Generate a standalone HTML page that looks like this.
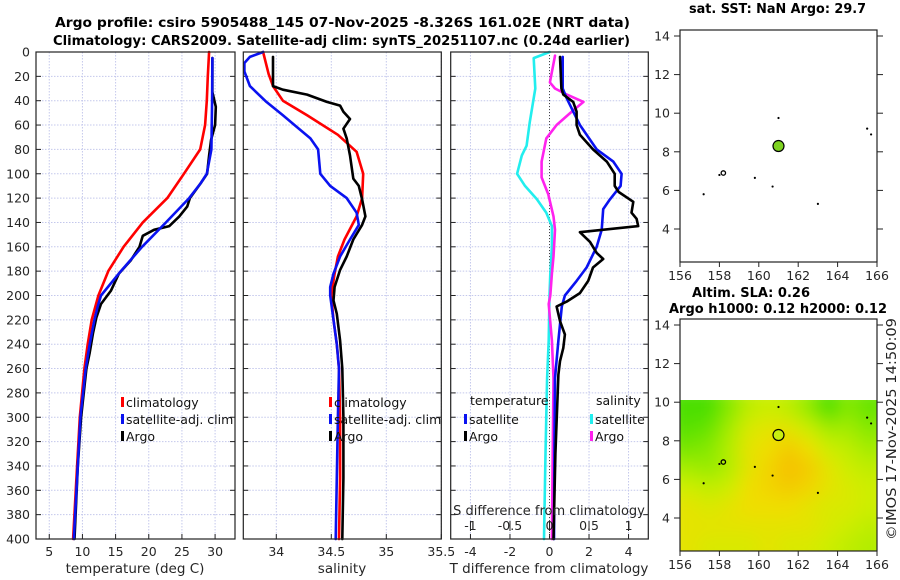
<!DOCTYPE html>
<html><head><meta charset="utf-8"><style>
html,body{margin:0;padding:0;background:#fff;}
svg{display:block;font-family:"DejaVu Sans","Liberation Sans",sans-serif;}
</style></head><body>
<svg id="chart" width="900" height="580" viewBox="0 0 900 580" xmlns="http://www.w3.org/2000/svg">
<defs>
<filter id="blur" x="0" y="0" width="1" height="1"><feGaussianBlur stdDeviation="9"/></filter>
<clipPath id="slaclip"><rect x="680" y="400" width="197" height="151"/></clipPath>
</defs>
<text x="55" y="27" font-size="13.5" font-weight="bold" textLength="575" lengthAdjust="spacingAndGlyphs">Argo profile: csiro 5905488_145 07-Nov-2025 -8.326S 161.02E (NRT data)</text>
<text x="53" y="45" font-size="13.5" font-weight="bold" textLength="577" lengthAdjust="spacingAndGlyphs">Climatology: CARS2009. Satellite-adj clim: synTS_20251107.nc (0.24d earlier)</text>
<text x="689" y="13" font-size="13" font-weight="bold" textLength="177" lengthAdjust="spacingAndGlyphs">sat. SST: NaN Argo: 29.7</text>
<text x="692" y="297" font-size="13" font-weight="bold" textLength="118" lengthAdjust="spacingAndGlyphs">Altim. SLA: 0.26</text>
<text x="669" y="313" font-size="13" font-weight="bold" textLength="218" lengthAdjust="spacingAndGlyphs">Argo h1000: 0.12 h2000: 0.12</text>
<text transform="translate(896,540) rotate(-90)" font-size="13" fill="#222" textLength="222" lengthAdjust="spacingAndGlyphs">©IMOS 17-Nov-2025 14:50:09</text>
<g id="layer"></g>
</svg>
<script>
// ---- Temperature panel data ----
const tempClimDepth=[0,20,40,60,80,100,120,140,160,180,200,220,240,260,300,340,400];
const tempClimValue=[29.1,28.9,28.75,28.5,27.75,25.3,22.8,19.1,16.2,13.9,12.4,11.4,10.8,10.3,9.6,9.2,8.6];
const tempSatDepth=[5,40,80,100,108,120,140,160,180,200,209,220,240,260,300,340,400];
const tempSatValue=[29.6,29.55,29.45,28.75,27.8,26.1,22.6,19.0,15.8,12.8,12.3,11.8,11.1,10.5,9.7,9.3,8.7];
const tempArgoDepth=[5,33,45,60,72,85,100,108,120,127,135,143,146,151,160,171,182,196,207,218,231,247,260,300,340,400];
const tempArgoValue=[29.6,29.6,30.1,30.0,29.4,29.1,28.8,27.8,26.2,25.8,24.6,23.1,20.8,19.1,18.6,17.3,15.5,14.3,12.8,12.1,11.6,11.1,10.6,9.8,9.3,8.8];
// ---- Salinity panel data ----
const salClimDepth=[0,18,28,40,52,68,82,100,120,135,154,168,182,200,220,240,260,300,350,400];
const salClimValue=[33.88,33.93,33.97,34.06,34.28,34.56,34.73,34.79,34.78,34.73,34.62,34.56,34.53,34.50,34.52,34.55,34.57,34.58,34.58,34.57];
const salSatDepth=[0,4,9,16,28,41,52,71,80,100,110,120,132,142,154,168,182,193,200,220,240,260,300,350,400];
const salSatValue=[33.88,33.76,33.71,33.71,33.76,33.91,34.06,34.31,34.38,34.40,34.49,34.64,34.73,34.75,34.67,34.58,34.52,34.49,34.49,34.52,34.55,34.57,34.56,34.55,34.54];
const salArgoDepth=[4,28,31,35,41,44,49,55,63,71,85,104,110,121,135,142,154,168,179,193,204,215,237,260,300,350,400];
const salArgoValue=[33.97,33.97,34.06,34.28,34.46,34.58,34.61,34.67,34.61,34.64,34.67,34.70,34.75,34.78,34.81,34.78,34.70,34.64,34.58,34.53,34.52,34.55,34.58,34.60,34.61,34.61,34.60];
// ---- Difference panel data ----
const dSSatDepth=[0,5,30,58,77,85,100,110,121,132,143,160,182,200,237,268,330,400];
const dSSatValue=[0,-0.2,-0.18,-0.25,-0.29,-0.35,-0.41,-0.31,-0.16,-0.04,0.03,0.03,0.01,0,-0.01,-0.03,-0.05,-0.07];
const dSArgoDepth=[3,25,30,35,41,48,60,71,90,103,117,135,146,168,182,200,207,237,268,330,400];
const dSArgoValue=[0.07,0.005,0.07,0.22,0.43,0.30,0.09,-0.04,-0.1,-0.1,-0.015,0.05,0.07,0.05,0.03,0.01,-0.01,0.03,0.05,0.04,0.03];
const dTSatDepth=[4,30,38,60,80,90,100,110,121,129,146,160,177,188,200,209,237,268,330,400];
const dTSatValue=[0.67,0.67,0.87,1.54,2.39,3.23,3.65,3.6,3.06,2.72,2.64,2.39,1.88,1.37,0.78,0.62,0.45,0.28,0.25,0.23];
const dTArgoDepth=[4,30,35,41,49,60,68,80,90,100,110,115,123,132,137,143,148,156,165,170,177,188,198,205,209,221,232,243,254,265,330,400];
const dTArgoValue=[0.53,0.6,0.7,1.2,1.37,1.37,1.54,2.2,2.9,3.3,3.3,3.5,4.24,4.15,4.41,4.49,1.54,2.05,2.39,2.72,2.2,1.96,1.54,0.87,0.36,0.53,0.78,0.7,0.53,0.45,0.3,0.2];
// ---- Tick labels ----
const depthTicks=[0,20,40,60,80,100,120,140,160,180,200,220,240,260,280,300,320,340,360,380,400];
const tempTicks=[5,10,15,20,25,30];
const salTicks=[34,34.5,35,35.5];
const dTTicks=[-4,-2,0,2,4];
const dSTicks=[-1,-0.5,0,0.5,1];
const lonTicks=[156,158,160,162,164,166];
const latTicks=[4,6,8,10,12,14];
// ---- Map data ----
const islandLon=[158.2,157.2,160.7,159.8,161.0,163.0,165.5,165.7,158.0];
const islandLat=[6.9,5.8,6.2,6.65,9.75,5.3,9.2,8.9,6.8];
const argoLon=[161.0];
const argoLat=[8.3];
const slaLons=[156,157,158,159,160,161,162,163,164,165];
const slaLats=[10.1,9.1,8.1,7.1,6.1,5.1,4.1,3.1];
const slaRow0=[0.15,0.15,0.19,0.23,0.24,0.23,0.20,0.15,0.19,0.17];
const slaRow1=[0.16,0.17,0.21,0.25,0.26,0.26,0.24,0.21,0.21,0.19];
const slaRow2=[0.18,0.19,0.22,0.26,0.27,0.29,0.27,0.24,0.23,0.21];
const slaRow3=[0.21,0.20,0.22,0.26,0.28,0.30,0.29,0.26,0.24,0.23];
const slaRow4=[0.24,0.23,0.24,0.27,0.28,0.29,0.28,0.26,0.25,0.24];
const slaRow5=[0.26,0.25,0.26,0.27,0.27,0.27,0.26,0.25,0.25,0.24];
const slaRow6=[0.26,0.26,0.26,0.26,0.26,0.26,0.26,0.25,0.24,0.23];
const slaRow7=[0.26,0.25,0.25,0.25,0.26,0.25,0.25,0.24,0.23,0.22];
const slaRows=[slaRow0,slaRow1,slaRow2,slaRow3,slaRow4,slaRow5,slaRow6,slaRow7];

const NS='http://www.w3.org/2000/svg';
const layer=document.getElementById('layer');
function el(tag,attrs,parent){const e=document.createElementNS(NS,tag);for(const k in attrs)e.setAttribute(k,attrs[k]);(parent||layer).appendChild(e);return e;}

const Y0=52, Y1=539;
const yD=d=>Y0+(d/400)*(Y1-Y0);
const xT=t=>36+(t-3)*6.633;
const xS=s=>243.3+(s-33.7)*110;
const xDT=t=>450.7+(t+5)*19.76;
const xDS=s=>xDT(s*4);
const panels=[[36,235],[243.3,441.3],[450.7,648.3]];

const ticksTxt=(x,y,s,anchor,name)=>{const t=el('text',{x:x,y:y,'font-size':12.5,fill:'#262626','text-anchor':anchor||'middle'});t.textContent=s;

return t;};

panels.forEach((p,i)=>{
  const g=el('g',{});
  
  
  el('rect',{x:p[0],y:Y0,width:p[1]-p[0],height:Y1-Y0,fill:'#fff'},g);
  depthTicks.forEach(d=>{if(d>0&&d<400)el('line',{x1:p[0],x2:p[1],y1:yD(d),y2:yD(d),stroke:'#c4c8ec','stroke-width':1,'stroke-dasharray':'1.5,1.5'},g);
    el('line',{x1:p[0],x2:p[0]+5,y1:yD(d),y2:yD(d),stroke:'#222'},g);
    el('line',{x1:p[1]-5,x2:p[1],y1:yD(d),y2:yD(d),stroke:'#222'},g);});
});
function vgrid(vals,f,name){vals.forEach(v=>{const x=f(v);
  el('line',{x1:x,x2:x,y1:Y0,y2:Y1,stroke:'#c4c8ec','stroke-width':1,'stroke-dasharray':'1.5,1.5'});
  el('line',{x1:x,x2:x,y1:Y1-5,y2:Y1,stroke:'#222'});
  ticksTxt(x,556,String(v),'middle',name);});}
vgrid(tempTicks,xT,'temperature-tick-label');
vgrid(salTicks,xS,'salinity-tick-label');
vgrid(dTTicks,xDT,'t-diff-tick-label');
el('line',{x1:xDT(0),x2:xDT(0),y1:Y0,y2:Y1,stroke:'#444','stroke-width':1,'stroke-dasharray':'1,2'});
depthTicks.forEach(d=>ticksTxt(30,yD(d)+4.5,String(d),'end','depth-tick-label'));

function line(depths,vals,xf,color,name){
  const pts=depths.map((d,i)=>xf(vals[i]).toFixed(1)+','+yD(d).toFixed(1)).join(' ');
  const e=el('polyline',{points:pts,fill:'none',stroke:color,'stroke-width':2.6,'stroke-linejoin':'round','stroke-linecap':'round'});
  
  
}
line(tempClimDepth,tempClimValue,xT,'#ff0000','temperature-climatology-line');
line(tempArgoDepth,tempArgoValue,xT,'#000','temperature-argo-line');
line(tempSatDepth,tempSatValue,xT,'#0a12f0','temperature-satellite-line');
line(salClimDepth,salClimValue,xS,'#ff0000','salinity-climatology-line');
line(salSatDepth,salSatValue,xS,'#0a12f0','salinity-satellite-line');
line(salArgoDepth,salArgoValue,xS,'#000','salinity-argo-line');
line(dSSatDepth,dSSatValue,xDS,'#22eeee','s-diff-satellite-line');
line(dSArgoDepth,dSArgoValue,xDS,'#ff22ee','s-diff-argo-line');
line(dTSatDepth,dTSatValue,xDT,'#0a12f0','t-diff-satellite-line');
line(dTArgoDepth,dTArgoValue,xDT,'#000','t-diff-argo-line');

panels.forEach(p=>el('rect',{x:p[0],y:Y0,width:p[1]-p[0],height:Y1-Y0,fill:'none',stroke:'#222','stroke-width':1.2}));

dSTicks.forEach(v=>{const x=xDS(v);el('line',{x1:x,x2:x,y1:521,y2:531,stroke:'#222'});
  ticksTxt(x,530,String(v),'middle','s-diff-tick-label');});
const sT=ticksTxt(549,515,'S difference from climatology','middle','s-diff-axis-title');sT.setAttribute('font-size','13');

[['temperature (deg C)',135,'temperature-axis-title'],['salinity',342,'salinity-axis-title'],['T difference from climatology',549,'t-diff-axis-title']].forEach(a=>{const t=ticksTxt(a[1],573,a[0],'middle',a[2]);t.setAttribute('font-size','13.5');});

function legend(x,y,color,label,name){
  el('rect',{x:x,y:y-8,width:3,height:10,fill:color});
  const t=el('text',{x:x+5,y:y+2,'font-size':12.5,fill:'#111'});t.textContent=label;
  
  
}
legend(121,405,'#ff0000','climatology','legend-climatology');
legend(121,422,'#0a12f0','satellite-adj. clim','legend-satellite-adj');
legend(121,439,'#000','Argo','legend-argo');
legend(329,405,'#ff0000','climatology','legend-sal-climatology');
legend(329,422,'#0a12f0','satellite-adj. clim','legend-sal-satellite-adj');
legend(329,439,'#000','Argo','legend-sal-argo');
const lt=el('text',{x:470,y:405,'font-size':12.5,fill:'#111'});lt.textContent='temperature';


legend(464,422,'#0a12f0','satellite','legend-t-satellite');
legend(464,439,'#000','Argo','legend-t-argo');
const ls=el('text',{x:596,y:405,'font-size':12.5,fill:'#111'});ls.textContent='salinity';


legend(590,422,'#22eeee','satellite','legend-s-satellite');
legend(590,439,'#ff22ee','Argo','legend-s-argo');

const mx=lon=>680+(lon-156)*19.7;
const myTop=lat=>36+(14-lat)*19.3;
const myBot=lat=>325+(14-lat)*19.3;
function slaColor(v){const st=[[0.14,[60,220,0]],[0.20,[150,235,0]],[0.24,[205,238,0]],[0.27,[240,222,0]],[0.31,[246,182,0]],[0.34,[240,150,0]]];
  if(v<=st[0][0])return 'rgb('+st[0][1]+')';
  for(let i=1;i<st.length;i++){if(v<=st[i][0]){const a=st[i-1],b=st[i],f=(v-a[0])/(b[0]-a[0]);
    return 'rgb('+a[1].map((c,k)=>Math.round(c+(b[1][k]-c)*f)).join(',')+')';}}
  return 'rgb('+st[st.length-1][1]+')';}
const hm=el('g',{'clip-path':'url(#slaclip)'});


const hmb=el('g',{filter:'url(#blur)'},hm);
slaRows.forEach((row,r)=>row.forEach((v,c)=>{
  const x0=mx(slaLons[c]),y0=myBot(slaLats[r]);
  const cell=el('rect',{x:x0-(c==0?15:0),y:y0-(r==0?15:0),width:19.7+1+(c==0||c==9?15:0),height:19.3+1+(r==0||r==7?15:0),fill:slaColor(v)},hmb);
  
  
}));

function mapFrame(my,top,bot,name){
  const g=el('g',{});
  
  
  el('rect',{x:680,y:top,width:197,height:bot-top,fill:'none',stroke:'#222','stroke-width':1.2},g);
  latTicks.forEach(l=>{const y=my(l);el('line',{x1:674,x2:680,y1:y,y2:y,stroke:'#222'},g);el('line',{x1:877,x2:883,y1:y,y2:y,stroke:'#222'},g);
    ticksTxt(670,y+4.5,String(l),'end','latitude-tick-label');});
  lonTicks.forEach(l=>{const x=mx(l);el('line',{x1:x,x2:x,y1:bot,y2:bot+5,stroke:'#222'},g);
    ticksTxt(x,bot+18,String(l),'middle','longitude-tick-label');});
  islandLon.forEach((lo,i)=>{const d=el('circle',{cx:mx(lo),cy:my(islandLat[i]),r:i==0?2.2:1.1,fill:i==0?'none':'#000',stroke:'#000','stroke-width':i==0?1.3:0},g);
    
    });
}
mapFrame(myTop,30,262,'sst-map');
mapFrame(myBot,319,551,'sla-map');
argoLon.forEach((lo,i)=>{
  const a=el('circle',{cx:mx(lo),cy:myTop(argoLat[i]),r:5.5,fill:'#7ed321',stroke:'#000','stroke-width':1.2});
  
  
  const b=el('circle',{cx:mx(lo),cy:myBot(argoLat[i]),r:5.5,fill:'#c8ee10',stroke:'#000','stroke-width':1.2});
  
  
});
</script>
</body></html>
